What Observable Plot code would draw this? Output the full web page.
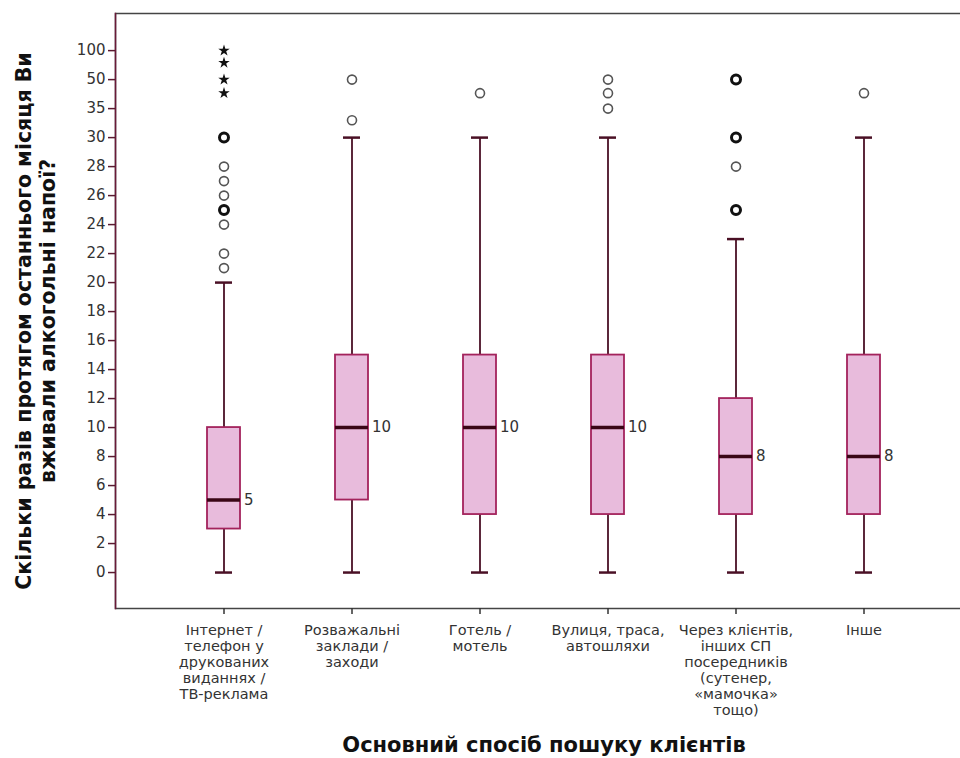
<!DOCTYPE html>
<html><head><meta charset="utf-8">
<script src="https://cdn.jsdelivr.net/npm/d3@7"></script>
<script src="https://cdn.jsdelivr.net/npm/@observablehq/plot@0.6"></script>
<style>body{margin:0;background:#fff;}</style>
</head><body><div id="chart"></div>
<script>
const categories = [
  "Інтернет /\nтелефон у\nдрукованих\nвиданнях /\nТВ-реклама",
  "Розважальні\nзаклади /\nзаходи",
  "Готель /\nмотель",
  "Вулиця, траса,\nавтошляхи",
  "Через клієнтів,\nінших СП\nпосередників\n(сутенер,\n«мамочка»\nтощо)",
  "Інше"
];
const whiskerLow = [0, 0, 0, 0, 0, 0];
const q1 = [3, 5, 4, 4, 4, 4];
const median = [5, 10, 10, 10, 8, 8];
const q3 = [10, 15, 15, 15, 12, 15];
const whiskerHigh = [20, 30, 30, 30, 23, 30];

// outliers: category index, value, kind ("o" single, "O" several, "*" extreme)
const outlierCat = [0,0,0,0,0,0,0,0, 0,0,0,0, 1,1, 2, 3,3,3, 4,4,4,4, 5];
const outlierVal = [30,28,27,26,25,24,22,21, 100,79,50,43, 50,33, 43, 50,43,35, 50,30,28,25, 43];
const outlierKind = ["O","o","o","o","O","o","o","o", "*","*","*","*", "o","o", "o", "o","o","o", "O","O","o","O", "o"];

const yTickValues = [0,2,4,6,8,10,12,14,16,18,20,22,24,26,28,30,35,50,100];
const yTitle = "Скільки разів протягом останнього місяця Ви\nвживали алкогольні напої?";
const xTitle = "Основний спосіб пошуку клієнтів";

// position of a value on the axis, whose ticks are spaced evenly
function pos(v) {
  for (let i = 0; i < yTickValues.length - 1; i++) {
    const a = yTickValues[i], b = yTickValues[i + 1];
    if (v <= b) return i + (v - a) / (b - a);
  }
  return yTickValues.length - 1;
}

const boxes = categories.map((c, i) => ({
  cat: c, lo: whiskerLow[i], q1: q1[i], med: median[i], q3: q3[i], hi: whiskerHigh[i]
}));
const outliers = outlierCat.map((ci, i) => ({cat: categories[ci], v: outlierVal[i], kind: outlierKind[i]}));

const ink = "#333";
const chart = Plot.plot({
  width: 960,
  height: 758,
  marginLeft: 115,
  marginRight: -12,
  marginTop: 13,
  marginBottom: 150,
  style: {fontFamily: "DejaVu Sans, sans-serif", fontSize: "14px", color: ink, background: "#fff"},
  x: {type: "band", domain: categories, paddingInner: 0.743, paddingOuter: 0.704},
  y: {domain: [-1.24, 19.28]},
  marks: [
    Plot.frame({stroke: "#444", strokeWidth: 1.5}),
    Plot.frame({anchor: "left", stroke: "#6a1a38", strokeWidth: 1.5}),
    Plot.axisY({
      ticks: d3.range(yTickValues.length),
      tickFormat: i => String(yTickValues[i]),
      tickSize: 7, tickPadding: 3, stroke: "#5a1a30", strokeWidth: 1.5, fill: ink,
      fontSize: 15, letterSpacing: "2px", label: null
    }),
    Plot.axisX({
      tickSize: 6, tickPadding: 9, stroke: "#333", strokeWidth: 1.5, fill: ink,
      fontSize: 14.5, lineHeight: 1.1, letterSpacing: "1.6px", label: null
    }),
    // whiskers
    Plot.ruleX(boxes, {x: "cat", y1: d => pos(d.lo), y2: d => pos(d.q1), stroke: "#4a1025", strokeWidth: 1.8}),
    Plot.ruleX(boxes, {x: "cat", y1: d => pos(d.q3), y2: d => pos(d.hi), stroke: "#4a1025", strokeWidth: 1.8}),
    Plot.tickY(boxes, {x: "cat", y: d => pos(d.lo), stroke: "#4a1025", strokeWidth: 2.5, insetLeft: 8, insetRight: 8}),
    Plot.tickY(boxes, {x: "cat", y: d => pos(d.hi), stroke: "#4a1025", strokeWidth: 2.5, insetLeft: 8, insetRight: 8}),
    // boxes
    Plot.barY(boxes, {x: "cat", y1: d => pos(d.q1), y2: d => pos(d.q3), fill: "#e8bbdc", stroke: "#a3235c", strokeWidth: 1.8}),
    Plot.tickY(boxes, {x: "cat", y: d => pos(d.med), stroke: "#3a0616", strokeWidth: 3.5}),
    Plot.text(boxes, {x: "cat", y: d => pos(d.med), text: d => String(d.med), dx: 20, textAnchor: "start", fill: ink, fontSize: 15, letterSpacing: "1.5px"}),
    // outliers
    Plot.dot(outliers.filter(d => d.kind === "o"), {x: "cat", y: d => pos(d.v), r: 4.5, stroke: "#555", strokeWidth: 1.6, fill: "none"}),
    Plot.dot(outliers.filter(d => d.kind === "O"), {x: "cat", y: d => pos(d.v), r: 4.5, stroke: "#111", strokeWidth: 3, fill: "none"}),
    Plot.dot(outliers.filter(d => d.kind === "*"), {x: "cat", y: d => pos(d.v), r: 3.6, symbol: "star", fill: "#111", stroke: "none"}),
    // titles
    Plot.text([yTitle], {frameAnchor: "left", dx: -80, dy: 10, rotate: -90, textAnchor: "middle", lineAnchor: "middle",
      lineHeight: 1.15, fontSize: 20.5, fontWeight: "bold", fill: "#111"}),
    Plot.text([xTitle], {frameAnchor: "bottom", dy: 137, textAnchor: "middle", lineAnchor: "middle",
      fontSize: 21, fontWeight: "bold", fill: "#111"})
  ]
});
document.getElementById("chart").appendChild(chart);
</script>
</body></html>
